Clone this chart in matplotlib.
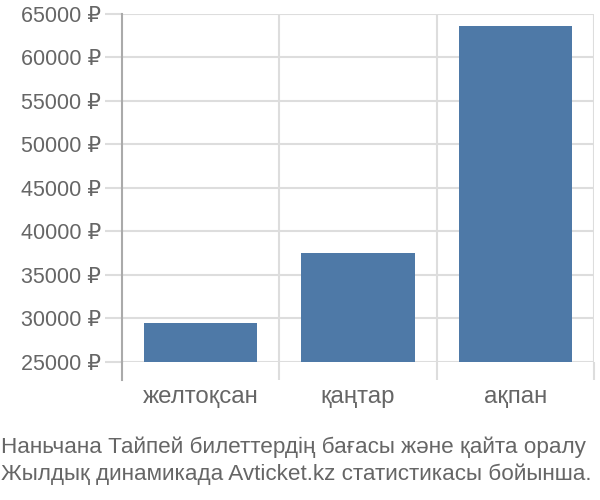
import matplotlib
matplotlib.use("Agg")
from matplotlib import pyplot as plt

categories = ["желтоқсан", "қаңтар", "ақпан"]
prices = [29500, 37500, 63600]
y_ticks = [25000, 30000, 35000, 40000, 45000, 50000, 55000, 60000, 65000]
title_lines = [
    "Наньчана Тайпей билеттердің бағасы және қайта оралу",
    "Жылдық динамикада Avticket.kz статистикасы бойынша.",
]

BAR_COLOR = "#4e79a7"
GRID_COLOR = "#dddddd"
TEXT_COLOR = "#666666"


def main() -> None:
    plt.rcParams["font.family"] = ["Liberation Sans", "DejaVu Sans"]

    fig = plt.figure(figsize=(6, 5), dpi=100)
    ax = fig.add_axes((122 / 600, 1 - 362 / 500, (594 - 122) / 600, (362 - 14) / 500))

    base = y_ticks[0]
    x = list(range(len(categories)))
    ax.bar(x, [p - base for p in prices], bottom=base, width=0.72, color=BAR_COLOR, zorder=3)

    ax.set_xlim(-0.5, len(categories) - 0.5)
    ax.set_ylim(y_ticks[0], y_ticks[-1])

    ax.set_yticks(y_ticks)
    ax.set_yticklabels([f"{v} ₽" for v in y_ticks])
    ax.yaxis.grid(True, color=GRID_COLOR, linewidth=1.5, zorder=0)
    ax.tick_params(axis="y", length=12, width=1.5, color=GRID_COLOR, pad=3,
                   labelsize=15.5, labelcolor=TEXT_COLOR)

    # category labels at centres, boundary lines as minor ticks
    ax.set_xticks(x)
    ax.set_xticklabels(categories)
    ax.tick_params(axis="x", which="major", length=0, pad=17, labelsize=17.3, labelcolor=TEXT_COLOR)
    bounds = [i + 0.5 for i in x]
    ax.set_xticks(bounds, minor=True)
    ax.xaxis.grid(True, which="minor", color=GRID_COLOR, linewidth=1.5, zorder=0)
    ax.tick_params(axis="x", which="minor", length=13, width=1.5, color=GRID_COLOR, direction="out")

    for side in ("top", "right", "bottom"):
        ax.spines[side].set_visible(False)
    ax.spines["left"].set_color("#aaaaaa")
    ax.spines["left"].set_linewidth(1.5)
    # extend left axis line down like the boundary ticks
    ax.plot([-0.5, -0.5], [y_ticks[0] - 18 / 8.7 * 1000, y_ticks[0]], color="#aaaaaa",
            linewidth=1.5, clip_on=False, zorder=4)

    fig.text(1 / 600, 1 - 447 / 500, title_lines[0], fontsize=16.2, color=TEXT_COLOR, va="center")
    fig.text(1 / 600, 1 - 474 / 500, title_lines[1], fontsize=16.2, color=TEXT_COLOR, va="center")

    fig.savefig("out.png", dpi=100)


if __name__ == "__main__":
    main()
